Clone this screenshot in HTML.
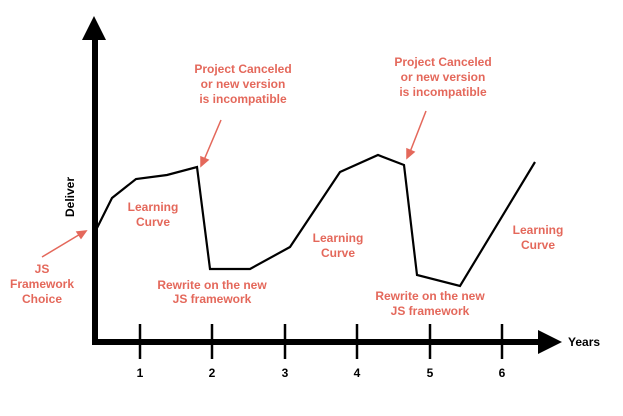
<!DOCTYPE html>
<html><head><style>body{margin:0;background:#fff}svg{display:block}text{font-family:"Liberation Sans",Arial,sans-serif;font-weight:bold;font-size:12px}.r{fill:#e4685b;text-anchor:middle}</style></head><body>
<svg width="623" height="416" viewBox="0 0 623 416">
<rect width="623" height="416" fill="#fff"/>
<line x1="95" y1="36" x2="95" y2="345" stroke="#000" stroke-width="6"/>
<polygon points="94,16 82,40 106,40" fill="#000"/>
<line x1="92" y1="342" x2="540" y2="342" stroke="#000" stroke-width="6"/>
<polygon points="562,342 538,330 538,354" fill="#000"/>
<g stroke="#000" stroke-width="2.5">
<line x1="140" y1="324" x2="140" y2="359"/><line x1="212" y1="324" x2="212" y2="359"/><line x1="285" y1="324" x2="285" y2="359"/><line x1="357" y1="324" x2="357" y2="359"/><line x1="430" y1="324" x2="430" y2="359"/><line x1="502" y1="324" x2="502" y2="359"/></g>
<g text-anchor="middle" font-size="11"><text x="140" y="377">1</text><text x="212" y="377">2</text><text x="285" y="377">3</text><text x="357" y="377">4</text><text x="430" y="377">5</text><text x="502" y="377">6</text></g>
<text x="568" y="346">Years</text>
<text transform="translate(74,197) rotate(-90)" text-anchor="middle">Deliver</text>
<polyline fill="none" stroke="#000" stroke-width="2.2" points="96,230 112,198 136,179 167,175 197,167 210,269 250,269 290,247 340,172 378,155 404,165 417,275 460,286 535,162"/>
<g stroke="#e4685b" stroke-width="1.5" fill="#e4685b">
<line x1="42" y1="257" x2="82" y2="233"/><polygon points="86,231 77,232 81,238"/>
<line x1="221" y1="120" x2="204" y2="160"/><polygon points="201,166 201,157 208,160"/>
<line x1="426" y1="111" x2="410" y2="152"/><polygon points="407,158 407,149 414,152"/>
</g>
<g class="r"><text x="42" y="273">JS</text><text x="42" y="288">Framework</text><text x="42" y="303">Choice</text>
<text x="153" y="211">Learning</text><text x="153" y="226">Curve</text>
<text x="243" y="73">Project Canceled</text><text x="243" y="88">or new version</text><text x="243" y="103">is incompatible</text>
<text x="443" y="66">Project Canceled</text><text x="443" y="81">or new version</text><text x="443" y="96">is incompatible</text>
<text x="212" y="289">Rewrite on the new</text><text x="212" y="303">JS framework</text>
<text x="338" y="242">Learning</text><text x="338" y="257">Curve</text>
<text x="430" y="300">Rewrite on the new</text><text x="430" y="315">JS framework</text>
<text x="538" y="234">Learning</text><text x="538" y="249">Curve</text></g>
</svg></body></html>
